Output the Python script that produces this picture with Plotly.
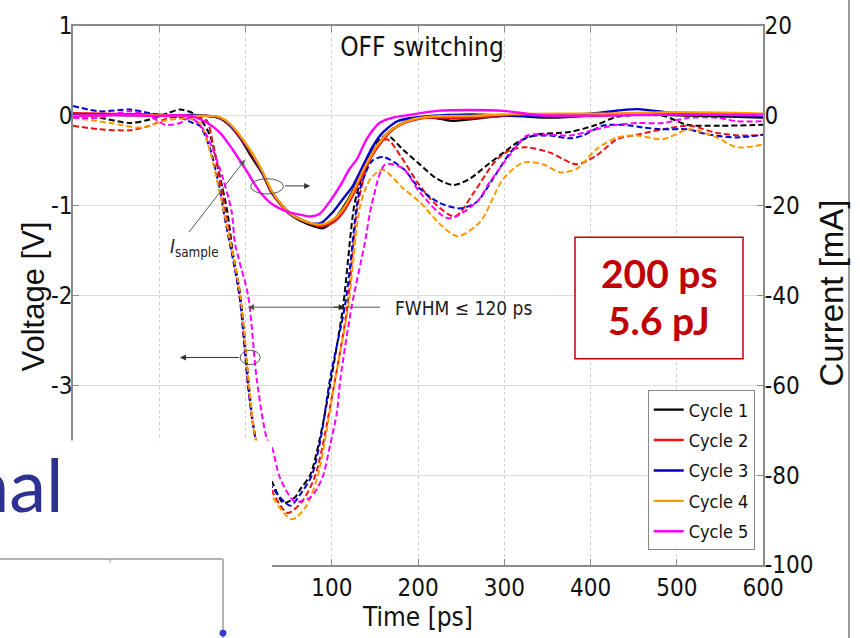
import plotly.graph_objects as go

# ---- Voltage across the cell (dashed, left axis, V) ----
t_v1 = [-200, -170, -134, -111, -90, -76, -61, -52, -41, -30, -21, -15, -6, 4, 11, 22, 32, 44, 57, 64, 75, 86, 98, 113, 126, 133, 147, 164, 183, 202, 222, 241, 260, 280, 299, 318, 338, 361, 376, 407, 431, 484, 512, 550, 600]
v_1 = [0.0, -0.02, -0.08, -0.04, 0.03, 0.07, 0.03, -0.04, -0.22, -0.66, -1.07, -1.5, -2.0, -3.0, -3.56, -3.9, -4.1, -4.31, -4.25, -4.15, -4.0, -3.6, -3.0, -2.13, -1.0, -0.74, -0.35, -0.22, -0.38, -0.54, -0.7, -0.77, -0.7, -0.55, -0.41, -0.28, -0.21, -0.19, -0.18, -0.1, -0.01, 0.0, -0.1, -0.11, -0.1]

t_v2 = [-200, -169, -134, -111, -88, -68, -53, -45, -37, -28, -21, -7, 3, 11, 32, 49, 65, 81, 104, 118, 130, 140, 150, 164, 180, 200, 220, 243, 265, 290, 307, 326, 353, 384, 407, 431, 454, 484, 515, 546, 577, 600]
v_2 = [-0.11, -0.15, -0.16, -0.11, -0.02, -0.02, -0.02, -0.05, -0.35, -0.8, -1.2, -2.0, -3.0, -3.56, -4.2, -4.42, -4.3, -4.0, -2.93, -2.13, -1.0, -0.6, -0.35, -0.26, -0.45, -0.75, -0.98, -1.12, -0.85, -0.5, -0.38, -0.35, -0.41, -0.54, -0.44, -0.26, -0.21, -0.15, -0.11, -0.19, -0.22, -0.21]

t_v3 = [-200, -169, -134, -111, -91, -76, -61, -53, -41, -30, -24, -7, 3, 11, 22, 32, 52, 63, 77, 88, 98, 115, 121, 129, 135, 147, 160, 183, 202, 225, 249, 268, 287, 307, 326, 353, 376, 391, 414, 437, 461, 484, 512, 538, 570, 600]
v_3 = [0.11, 0.05, 0.07, 0.03, 0.0, -0.02, -0.08, -0.11, -0.37, -0.81, -1.14, -2.0, -3.0, -3.56, -3.95, -4.15, -4.34, -4.22, -4.0, -3.55, -2.93, -2.13, -1.7, -1.0, -0.74, -0.5, -0.46, -0.59, -0.81, -0.97, -1.03, -0.96, -0.7, -0.41, -0.24, -0.22, -0.25, -0.22, -0.11, -0.1, -0.13, -0.15, -0.15, -0.21, -0.24, -0.21]

t_v4 = [-200, -157, -122, -91, -68, -53, -41, -30, -20, -6, 4, 11, 32, 54, 70, 84, 104, 119, 133, 145, 159, 183, 202, 225, 246, 272, 299, 322, 345, 365, 384, 407, 431, 454, 484, 515, 546, 570, 600]
v_4 = [-0.02, -0.08, -0.13, -0.05, -0.03, -0.08, -0.4, -0.85, -1.29, -2.0, -3.0, -3.56, -4.25, -4.49, -4.35, -4.0, -2.93, -2.13, -1.0, -0.7, -0.6, -0.81, -0.96, -1.2, -1.34, -1.18, -0.7, -0.52, -0.54, -0.63, -0.59, -0.37, -0.24, -0.22, -0.26, -0.15, -0.24, -0.35, -0.32]

t_v5 = [-200, -169, -134, -111, -93, -76, -64, -49, -38, -26, -16, -12, 3, 13, 25, 31, 40, 57, 75, 89, 98, 106, 110, 123, 138, 147, 162, 183, 202, 235, 268, 283, 307, 326, 353, 376, 407, 431, 454, 484, 515, 546, 570, 600]
v_5 = [-0.02, -0.02, 0.05, 0.0, -0.1, -0.08, -0.02, -0.15, -0.37, -0.7, -1.07, -1.43, -2.0, -2.93, -3.6, -3.7, -4.03, -4.29, -4.25, -4.03, -3.67, -3.3, -2.93, -2.13, -1.43, -0.96, -0.54, -0.59, -0.85, -1.14, -0.96, -0.74, -0.43, -0.22, -0.21, -0.22, -0.15, -0.1, -0.08, -0.08, -0.02, -0.02, -0.06, -0.06]

# ---- Sample current (solid, right axis, mA) ----
t_i1 = [-200, -150, -100, -60, -45, -30, -18, -6, 5, 20, 30, 42, 52, 63, 78, 90, 101, 113, 125, 138, 153, 170, 190, 214, 240, 299, 356, 414, 492, 530, 600]
i_1 = [0.0, 0.3, 0.2, 0.0, 0.0, -0.5, -2.2, -5.0, -8.5, -13.0, -17.0, -20.0, -22.0, -23.3, -24.5, -25.0, -23.5, -20.5, -16.5, -11.0, -6.5, -3.0, -1.0, -0.3, -1.1, 0.0, -0.4, 0.2, 0.2, 0.0, -0.4]

t_i2 = [-200, -150, -100, -60, -45, -30, -18, 5, 20, 30, 42, 52, 63, 78, 88, 101, 113, 125, 138, 153, 170, 190, 214, 260, 300, 360, 420, 500, 600]
i_2 = [0.6, 0.4, 0.2, 0.0, 0.0, -0.5, -2.2, -8.0, -13.0, -17.0, -20.0, -21.8, -23.0, -24.2, -24.6, -23.8, -21.5, -17.5, -12.0, -7.0, -3.2, -1.2, -0.4, -0.5, 0.0, 0.2, 0.4, 0.4, 0.0]

t_i3 = [-200, -150, -100, -60, -45, -30, -18, 5, 20, 30, 42, 52, 63, 78, 88, 101, 113, 125, 144, 156, 176, 200, 260, 320, 400, 454, 500, 560, 600]
i_3 = [0.2, 0.2, 0.0, 0.2, 0.0, -0.4, -2.0, -7.8, -12.8, -16.8, -19.8, -21.8, -23.0, -24.0, -23.8, -21.5, -18.5, -15.4, -8.1, -4.4, -1.2, -0.3, 0.3, 0.0, 0.5, 1.5, 0.5, 0.2, 0.0]

t_i4 = [-200, -150, -100, -60, -45, -30, -18, 5, 20, 30, 42, 52, 63, 78, 88, 101, 113, 125, 138, 153, 170, 190, 214, 260, 300, 360, 420, 500, 600]
i_4 = [0.0, 0.2, 0.1, 0.0, 0.0, -0.3, -1.8, -7.5, -12.5, -16.6, -19.8, -21.8, -23.0, -24.0, -24.2, -23.2, -20.8, -16.8, -11.5, -6.5, -3.0, -1.0, -0.2, 0.0, 0.3, 0.5, 0.5, 0.8, 0.5]

t_i5 = [-200, -150, -100, -64, -45, -30, -15, 2, 17, 32, 48, 63, 75, 86, 98, 110, 120, 129, 141, 156, 171, 190, 222, 260, 299, 338, 400, 500, 600]
i_5 = [0.0, 0.2, 0.0, 0.0, -1.5, -3.7, -7.5, -12.5, -17.0, -19.8, -21.3, -22.0, -22.4, -21.8, -19.0, -15.5, -12.0, -9.7, -5.0, -1.5, -0.4, 0.2, 1.1, 1.3, 1.1, 0.2, 0.0, 0.3, 0.2]

cycle_names = ["Cycle 1", "Cycle 2", "Cycle 3", "Cycle 4", "Cycle 5"]
cycle_colors = ["#000000", "#EE1111", "#0000CC", "#FF9900", "#FF00FF"]

# tick labels hidden behind the slide panel are left blank
x_ticks = [-200, -100, 0, 100, 200, 300, 400, 500, 600]
x_ticktext = ["", "", "", "100", "200", "300", "400", "500", "600"]
v_ticks = [-5, -4, -3, -2, -1, 0, 1]
v_ticktext = ["", "", "-3", "-2", "-1", "0", "1"]
i_ticks = [-100, -80, -60, -40, -20, 0, 20]
i_ticktext = ["-100", "-80", "-60", "-40", "-20", "0", "20"]

NARROW = "DejaVu Sans Condensed, Liberation Sans Narrow, Liberation Sans, sans-serif"
REGULAR = "Liberation Sans, Arial, sans-serif"
GEOM = "Lato, Noto Sans, sans-serif"

volt_t = [t_v1, t_v2, t_v3, t_v4, t_v5]
volt_v = [v_1, v_2, v_3, v_4, v_5]
cur_t = [t_i1, t_i2, t_i3, t_i4, t_i5]
cur_i = [i_1, i_2, i_3, i_4, i_5]

fig = go.Figure()

for k in range(5):
    fig.add_trace(go.Scatter(
        x=volt_t[k], y=volt_v[k], mode="lines", yaxis="y",
        line=dict(color=cycle_colors[k], width=2, dash="6px,3px", shape="spline", smoothing=0.8),
        showlegend=False, legendgroup=cycle_names[k], hoverinfo="skip"))

for k in range(5):
    fig.add_trace(go.Scatter(
        x=cur_t[k], y=cur_i[k], mode="lines", yaxis="y2", name=cycle_names[k],
        line=dict(color=cycle_colors[k], width=2.4, shape="spline", smoothing=0.8),
        legendgroup=cycle_names[k], hoverinfo="skip"))

axis_line = "#8a8a8a"
tick_font = dict(family=NARROW, size=24, color="#111111")

fig.update_layout(
    width=860, height=638,
    margin=dict(l=73, r=97, t=22, b=70),
    paper_bgcolor="white", plot_bgcolor="white",
    title=dict(text="OFF switching", x=0.4907, xanchor="center", y=1 - 47 / 638, yanchor="middle",
               yref="container", font=dict(family=NARROW, size=26, color="#111111")),
    xaxis=dict(range=[-200, 600], tickvals=x_ticks, ticktext=x_ticktext, ticks="inside", ticklen=6,
               tickcolor=axis_line, showline=True, linecolor=axis_line, linewidth=1.5, mirror="ticks",
               showgrid=True, gridcolor="#cfcfcf", griddash="dot", gridwidth=1, zeroline=False,
               tickfont=tick_font,
               title=dict(text="Time [ps]", standoff=6, font=dict(family=NARROW, size=26, color="#111111"))),
    yaxis=dict(range=[-5, 1], tickvals=v_ticks, ticktext=v_ticktext, ticks="inside", ticklen=6,
               tickcolor=axis_line, showline=True, linecolor=axis_line, linewidth=1.5,
               showgrid=True, gridcolor="#dcdcdc", gridwidth=1, zeroline=False, tickfont=tick_font,
               ticklabelstandoff=-6),
    yaxis2=dict(range=[-100, 20], tickvals=i_ticks, ticktext=i_ticktext, ticks="inside", ticklen=6,
                tickcolor=axis_line, showline=True, linecolor=axis_line, linewidth=1.5,
                overlaying="y", side="right", showgrid=False, zeroline=False, tickfont=tick_font,
                ticklabelstandoff=-5),
    legend=dict(x=0.988, xanchor="right", y=0.027, yanchor="bottom", bgcolor="white",
                bordercolor="#888888", borderwidth=1, font=dict(family=NARROW, size=18, color="#111111"),
                itemwidth=30, traceorder="grouped", tracegroupgap=4),
    showlegend=True,
)

# px -> paper helpers for the layout furniture
def px_x(p):
    return (p - 73) / 690.0

def px_y(p):
    return (568 - p) / 546.0

shapes = [
    # callout box with the switching figures
    dict(type="rect", xref="paper", yref="paper", x0=px_x(575), x1=px_x(743), y0=px_y(359), y1=px_y(236),
         line=dict(color="#C00000", width=1.5), fillcolor="white", layer="above"),
    # ellipse around the current traces
    dict(type="circle", xref="x", yref="y", x0=6, x1=44, y0=-0.87, y1=-0.70,
         line=dict(color="#555555", width=1), layer="above"),
    # ellipse around the voltage traces
    dict(type="circle", xref="x", yref="y", x0=-6, x1=17, y0=-2.77, y1=-2.61,
         line=dict(color="#555555", width=1), layer="above"),
    # slide panel covering the lower left corner
    dict(type="rect", xref="paper", yref="paper", x0=-0.2, x1=px_x(272), y0=-0.2, y1=px_y(442),
         line=dict(width=0), fillcolor="white", layer="above"),
    dict(type="line", xref="paper", yref="paper", x0=-0.2, x1=px_x(223), y0=px_y(562), y1=px_y(562),
         line=dict(color="#9a9a9a", width=1.5), layer="above"),
    dict(type="line", xref="paper", yref="paper", x0=px_x(110), x1=px_x(110), y0=px_y(562), y1=px_y(566),
         line=dict(color="#9a9a9a", width=1), layer="above"),
    dict(type="line", xref="paper", yref="paper", x0=px_x(223), x1=px_x(223), y0=px_y(562), y1=-0.2,
         line=dict(color="#9a9a9a", width=1.5), layer="above"),
    dict(type="circle", xref="paper", yref="paper", x0=px_x(219.5), x1=px_x(226.5), y0=px_y(640.5), y1=px_y(633.5),
         line=dict(width=0), fillcolor="#2B3FC8", layer="above"),
    # picture frame edge on the right
    dict(type="line", xref="paper", yref="paper", x0=px_x(849), x1=px_x(849), y0=-0.2, y1=1.2,
         line=dict(color="#9a9a9a", width=2), layer="above"),
]
fig.update_layout(shapes=shapes)

ann = [
    # axis titles
    dict(x=px_x(33), y=px_y(296), xref="paper", yref="paper", xanchor="center", yanchor="middle",
         textangle=-90, showarrow=False, text="Voltage [V]",
         font=dict(family=REGULAR, size=31, color="#111111")),
    dict(x=px_x(832), y=px_y(293), xref="paper", yref="paper", xanchor="center", yanchor="middle",
         textangle=-90, showarrow=False, text="Current [mA]",
         font=dict(family=REGULAR, size=33, color="#111111")),
    # ellipse arrows (which axis each group uses)
    dict(x=75, y=-0.78, ax=44, ay=-0.78, xref="x", yref="y", axref="x", ayref="y", text="",
         showarrow=True, arrowhead=2, arrowsize=1.2, arrowwidth=1, arrowcolor="#333333"),
    dict(x=-76, y=-2.69, ax=-6, ay=-2.69, xref="x", yref="y", axref="x", ayref="y", text="",
         showarrow=True, arrowhead=2, arrowsize=1.2, arrowwidth=1, arrowcolor="#333333"),
    # I_sample pointer
    dict(x=-0.6, y=-0.49, ax=-66.7, ay=-1.31, xref="x", yref="y", axref="x", ayref="y", text="",
         showarrow=True, arrowhead=2, arrowsize=1.2, arrowwidth=1, arrowcolor="#555555"),
    dict(x=-90, y=-1.47, xref="x", yref="y", xanchor="left", yanchor="middle", showarrow=False,
         text="<i>I</i><sub>sample</sub>", font=dict(family=NARROW, size=19, color="#222222")),
    # FWHM marker
    dict(x=3, y=-2.13, ax=158, ay=-2.13, xref="x", yref="y", axref="x", ayref="y", text="",
         showarrow=True, arrowhead=2, arrowsize=1.2, arrowwidth=1, arrowcolor="#555555"),
    dict(x=115, y=-2.13, ax=100, ay=-2.13, xref="x", yref="y", axref="x", ayref="y", text="",
         showarrow=True, arrowhead=2, arrowsize=1.2, arrowwidth=1, arrowcolor="#222222"),
    dict(x=171, y=-2.14, xref="x", yref="y", xanchor="left", yanchor="middle", showarrow=False,
         text="FWHM ≤ 120 ps", font=dict(family=NARROW, size=19, color="#222222")),
    # callout figures
    dict(x=px_x(659), y=px_y(272), xref="paper", yref="paper", xanchor="center", yanchor="middle",
         showarrow=False, text="<b>200 ps</b>", font=dict(family=GEOM, size=39, color="#C00000")),
    dict(x=px_x(659), y=px_y(320), xref="paper", yref="paper", xanchor="center", yanchor="middle",
         showarrow=False, text="<b>5.6 pJ</b>", font=dict(family=GEOM, size=39, color="#C00000")),
    # slide heading fragment, running off the left edge
    dict(x=px_x(66), y=px_y(485), xref="paper", yref="paper", xanchor="right", yanchor="middle",
         showarrow=False, text="nal", font=dict(family=GEOM, size=74, color="#2E3192")),
]
fig.update_layout(annotations=ann)

fig.write_html("out.html")
